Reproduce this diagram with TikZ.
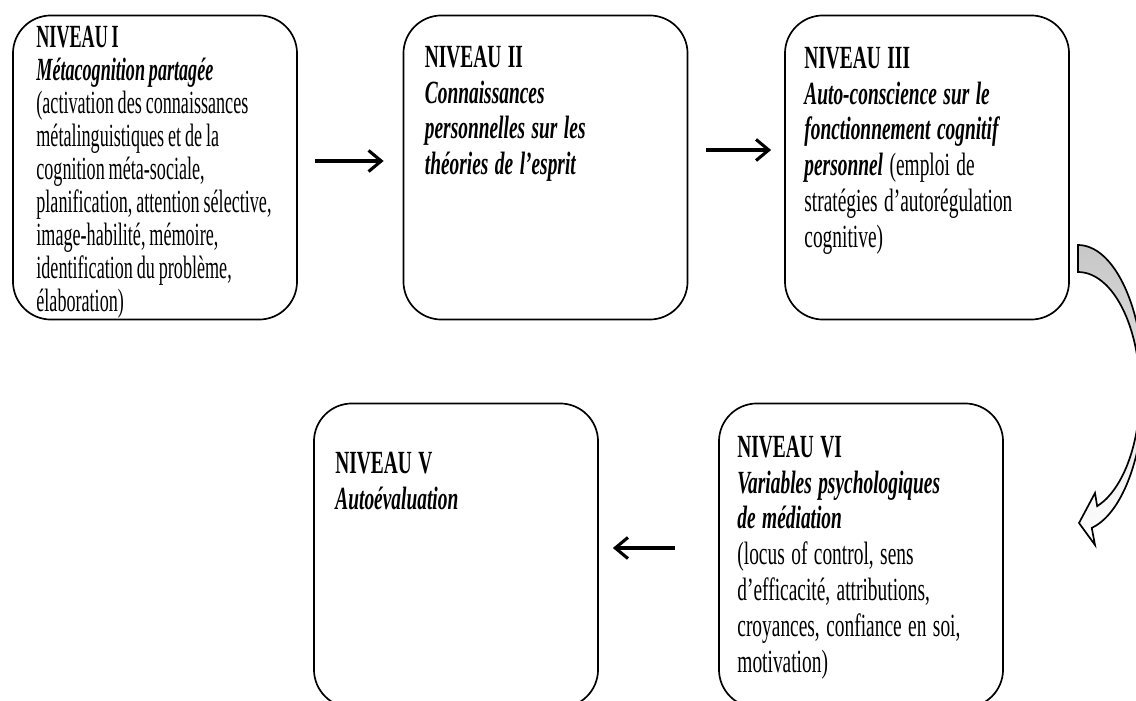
\documentclass[tikz,border=0pt]{standalone}
\usepackage{fontspec}
\setmainfont{Liberation Serif}[FakeStretch=0.6]
\newfontfamily\nivserre{Liberation Serif}[FakeStretch=0.56]
\usetikzlibrary{arrows.meta,positioning}
\newcommand{\nivtitre}[1]{\textbf{\textit{#1}}}
\newcommand{\nivespace}[1]{\spaceskip=#1em plus 0.05em\relax\xspaceskip=\spaceskip}
\tikzset{
	niveau/.style = {draw=black, line width=1.2pt, rounded corners=0.95cm, minimum width=7.1cm, minimum height=7.6cm, inner sep=0pt},
	niveau_txt/.style = {anchor=north west, inner sep=0pt, align=left, text width=6.9cm, font={\fontsize{23}{25.5}\selectfont}, execute at begin node={\nivespace{0.2}}},
	fleche/.style = {-{Straight Barb[length=9pt,width=15pt]}, line width=2.2pt}
}
\begin{document}
\begin{tikzpicture}[x=0.025cm, y=-0.025cm]
	\useasboundingbox (0,0) rectangle (1136,701);
	% les cinq niveaux
	\node [niveau] (b1) at (155,167.5) {};
	\node [niveau] (b2) at (545.5,167.5) {};
	\node [niveau] (b3) at (927,167.5) {};
	\node [niveau] (b5) at (456,555.5) {};
	\node [niveau] (b6) at (861,555.5) {};
	
	\node [niveau_txt, font={\nivserre\fontsize{23}{23.5}\selectfont}, execute at begin node={\nivespace{0.12}}] (t1) at ([shift={(24,11)}]b1.north west) {\textbf{NIVEAU I}\\
		\nivtitre{Métacognition partagée}\\
		(activation des connaissances\\
		métalinguistiques et de la\\
		cognition méta-sociale,\\
		planification, attention sélective,\\
		image-habilité, mémoire,\\
		identification du problème,\\
		élaboration)};
	\node [niveau_txt] (t2) at ([shift={(22,31)}]b2.north west) {\textbf{NIVEAU II}\\
		\nivtitre{Connaissances}\\
		\nivtitre{personnelles sur les}\\
		\nivtitre{théories de l’esprit}};
	\node [niveau_txt] (t3) at ([shift={(20,32)}]b3.north west) {\textbf{NIVEAU III}\\
		\nivtitre{Auto-conscience sur le}\\
		\nivtitre{fonctionnement cognitif}\\
		\nivtitre{personnel} (emploi de\\
		stratégies d’autorégulation\\
		cognitive)};
	\node [niveau_txt] (t5) at ([shift={(22,49)}]b5.north west) {\textbf{NIVEAU V}\\
		\nivtitre{Autoévaluation}};
	\node [niveau_txt] (t6) at ([shift={(19,33)}]b6.north west) {\textbf{NIVEAU VI}\\
		\nivtitre{Variables psychologiques}\\
		\nivtitre{de médiation}\\
		(locus of control, sens\\
		d’efficacité, attributions,\\
		croyances, confiance en soi,\\
		motivation)};
	
	% fleches
	\draw [fleche] ([shift={(17,-6.5)}]b1.east) -- ([shift={(-19,-6.5)}]b2.west);
	\draw [fleche] ([shift={(18,-17.5)}]b2.east) -- ([shift={(-13,-17.5)}]b3.west);
	\draw [fleche] ([shift={(-43,-7.5)}]b6.west) -- ([shift={(14,-7.5)}]b5.east);
	
	% fleche courbe de III vers VI
	\begin{scope}
		\clip (0,0) rectangle (1136,701);
		\shadedraw [draw=black, line width=1.2pt, top color=black!22, middle color=white, bottom color=white]
		plot [domain=-90:78, samples=50, smooth] ({1078+66*cos(\x)},{388+143*sin(\x)})
		-- (1095,545) -- (1079,523) -- (1095,493)
		-- plot [domain=72:-90, samples=50, smooth] ({1078+62*cos(\x)},{392+120*sin(\x)})
		-- cycle;
	\end{scope}
\end{tikzpicture}
\end{document}
